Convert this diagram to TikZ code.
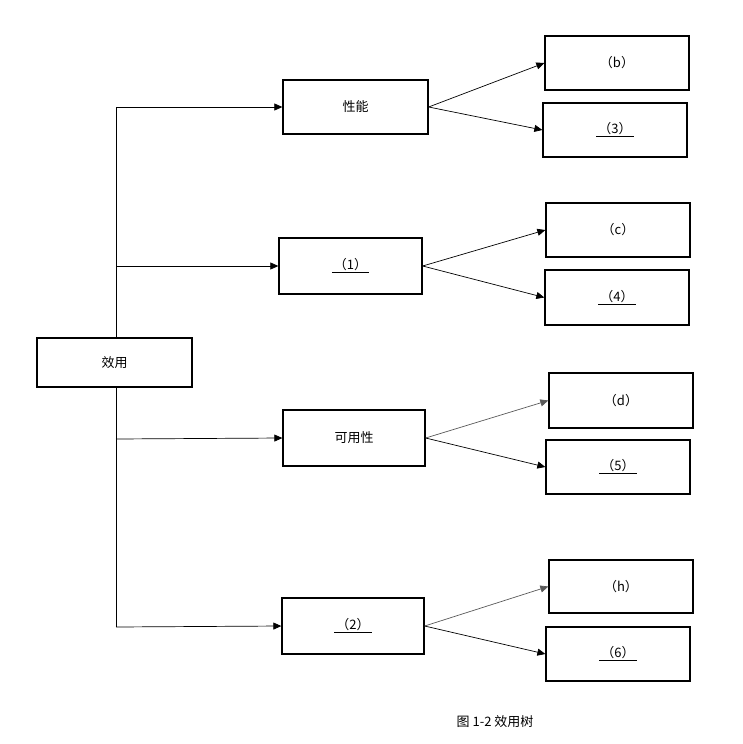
\documentclass[tikz,border=0pt]{standalone}
\usepackage{fontspec}
\setmainfont{Noto Sans CJK SC}
\usetikzlibrary{arrows.meta}
\begin{document}
\begin{tikzpicture}[x=1pt,y=-1pt,
  bx/.style={draw,line width=1.3pt,inner sep=0pt,font=\fontsize{13}{15}\selectfont},
  ln/.style={line width=0.7pt},
  ar/.style={ln,-{Triangle[length=8pt,width=7pt]}},
  ul/.style={}]
\useasboundingbox (0,0) rectangle (743,744);
\newcommand\bxat[5]{\node[bx,minimum width=#3-#1,minimum height=#4-#2] (#5) at ({(#1+#3)/2},{(#2+#4)/2})}
\bxat{37}{338}{192}{387}{root} {效用};
\bxat{283}{80}{428}{134}{m1} {性能};
\bxat{279}{238}{422}{294}{m2} {\underline{\hspace{2pt}（1）\hspace{2pt}}};
\bxat{283}{410}{425}{466}{m3} {可用性};
\bxat{282}{598}{424}{654}{m4} {\underline{\hspace{2pt}（2）\hspace{2pt}}};
\bxat{545}{36}{689}{90}{r1} {（b）};
\bxat{543}{103}{687}{157}{r2} {\underline{\hspace{2pt}（3）\hspace{2pt}}};
\bxat{546}{203}{690}{257}{r3} {（c）};
\bxat{545}{270}{689}{325}{r4} {\underline{\hspace{2pt}（4）\hspace{2pt}}};
\bxat{549}{373}{693}{428}{r5} {（d）};
\bxat{546}{440}{690}{494}{r6} {\underline{\hspace{2pt}（5）\hspace{2pt}}};
\bxat{549}{560}{693}{613}{r7} {（h）};
\bxat{546}{627}{690}{681}{r8} {\underline{\hspace{2pt}（6）\hspace{2pt}}};
\coordinate (t) at (116,107);
\coordinate (b2) at (116,266);
\coordinate (b3) at (116,439);
\coordinate (b4) at (116,627);
\draw[ln] (root.north -| t) -- (t);
\draw[ln] (root.south -| t) -- (b4);
\draw[ar] (t) -- (m1.west);
\draw[ar] (b2) -- (m2.west);
\draw[ar] (b3) -- (m3.west);
\draw[ar] (b4) -- (m4.west);
\draw[ar] (m1.east) -- (r1.west);
\draw[ar] (m1.east) -- (r2.west);
\draw[ar] (m2.east) -- (r3.west);
\draw[ar] (m2.east) -- (r4.west);
\draw[ar,draw=gray!70!black] (m3.east) -- (r5.west);
\draw[ar] (m3.east) -- (r6.west);
\draw[ar,draw=gray!70!black] (m4.east) -- (r7.west);
\draw[ar] (m4.east) -- (r8.west);
\node[font=\fontsize{13}{15}\selectfont] (cap) at (495,722) {图 1-2 效用树};
\end{tikzpicture}
\end{document}
